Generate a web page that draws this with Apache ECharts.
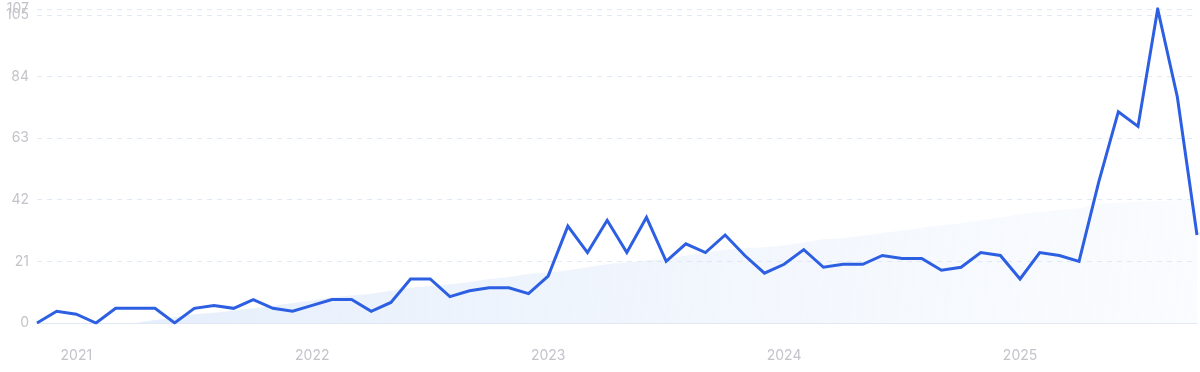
<!DOCTYPE html>
<html>
<head>
<meta charset="utf-8">
<script src="https://cdn.jsdelivr.net/npm/echarts@6/dist/echarts.min.js"></script>
<style>
html,body{margin:0;padding:0;background:#fff;}
#chart{width:1200px;height:372px;}
</style>
</head>
<body>
<div id="chart"></div>
<script>
const months = [
  '2020-11','2020-12',
  '2021-01','2021-02','2021-03','2021-04','2021-05','2021-06','2021-07','2021-08','2021-09','2021-10','2021-11','2021-12',
  '2022-01','2022-02','2022-03','2022-04','2022-05','2022-06','2022-07','2022-08','2022-09','2022-10','2022-11','2022-12',
  '2023-01','2023-02','2023-03','2023-04','2023-05','2023-06','2023-07','2023-08','2023-09','2023-10','2023-11','2023-12',
  '2024-01','2024-02','2024-03','2024-04','2024-05','2024-06','2024-07','2024-08','2024-09','2024-10','2024-11','2024-12',
  '2025-01','2025-02','2025-03','2025-04','2025-05','2025-06','2025-07','2025-08','2025-09','2025-10'
];
const interest = [
  0, 4,
  3, 0, 5, 5, 5, 0, 5, 6, 5, 8, 5, 4,
  6, 8, 8, 4, 7, 15, 15, 9, 11, 12, 12, 10,
  16, 33, 24, 35, 24, 36, 21, 27, 24, 30, 23, 17,
  20, 25, 19, 20, 20, 23, 22, 22, 18, 19, 24, 23,
  15, 24, 23, 21, 48, 72, 67, 107, 77, 30
];
const trend = [
  null, null,
  null, null, null, 0, 1, 2, 3, 3.5, 4.3, 5, 5.8, 6.8,
  7.7, 8.7, 9.4, 10, 11, 12, 12.6, 13.2, 14, 15, 15.7, 16.7,
  17.2, 18, 19, 20, 20.7, 21.3, 22, 23, 24, 25, 25.5, 25.8,
  26.5, 27.5, 28.5, 29, 29.8, 30.7, 31.5, 32.5, 33.3, 34, 35, 36,
  37, 37.8, 38.5, 39.2, 40.5, 41, 41.3, 41.6, 41.8, 42
];
const yMin = 0, yMax = 107, yStep = 21;

const labelStyle = { color: '#c3c3ca', fontSize: 14, fontFamily: 'Inter', margin: 8 };
const gridDash = { lineStyle: { color: '#dfe9f8', type: [5, 5], width: 1 } };

const chart = echarts.init(document.getElementById('chart'));
chart.setOption({
  animation: false,
  grid: { left: 37, right: 3, top: 9, bottom: 49, containLabel: false },
  xAxis: {
    type: 'category',
    data: months,
    boundaryGap: false,
    axisTick: { show: false },
    axisLine: { lineStyle: { color: '#e2e8f3', width: 1 } },
    axisLabel: {
      margin: 26,
      color: '#c3c3ca',
      fontSize: 14,
      fontFamily: 'Inter',
      interval: (i, v) => v.endsWith('-01'),
      formatter: v => v.slice(0, 4)
    },
    splitLine: { show: false }
  },
  yAxis: [
    {
      type: 'value',
      min: yMin, max: yMax, interval: yStep,
      axisLine: { show: false },
      axisTick: { show: false },
      axisLabel: labelStyle,
      splitLine: gridDash
    },
    {
      type: 'value',
      position: 'left',
      min: yMin, max: yMax, interval: yMax,
      axisLine: { show: false },
      axisTick: { show: false },
      axisLabel: Object.assign({ showMinLabel: false }, labelStyle),
      splitLine: gridDash
    }
  ],
  series: [
    {
      type: 'line',
      data: trend,
      showSymbol: false,
      smooth: true,
      lineStyle: { width: 0, opacity: 0 },
      areaStyle: {
        color: new echarts.graphic.LinearGradient(0, 0, 1, 1, [
          { offset: 0, color: 'rgba(205,223,248,0.75)' },
          { offset: 1, color: 'rgba(225,235,251,0.25)' }
        ])
      },
      z: 1,
      silent: true
    },
    {
      type: 'line',
      data: interest,
      showSymbol: false,
      lineStyle: { width: 3, color: '#2d5fe2', join: 'miter' },
      itemStyle: { color: '#2d5fe2' },
      z: 3
    }
  ]
});
</script>
</body>
</html>
